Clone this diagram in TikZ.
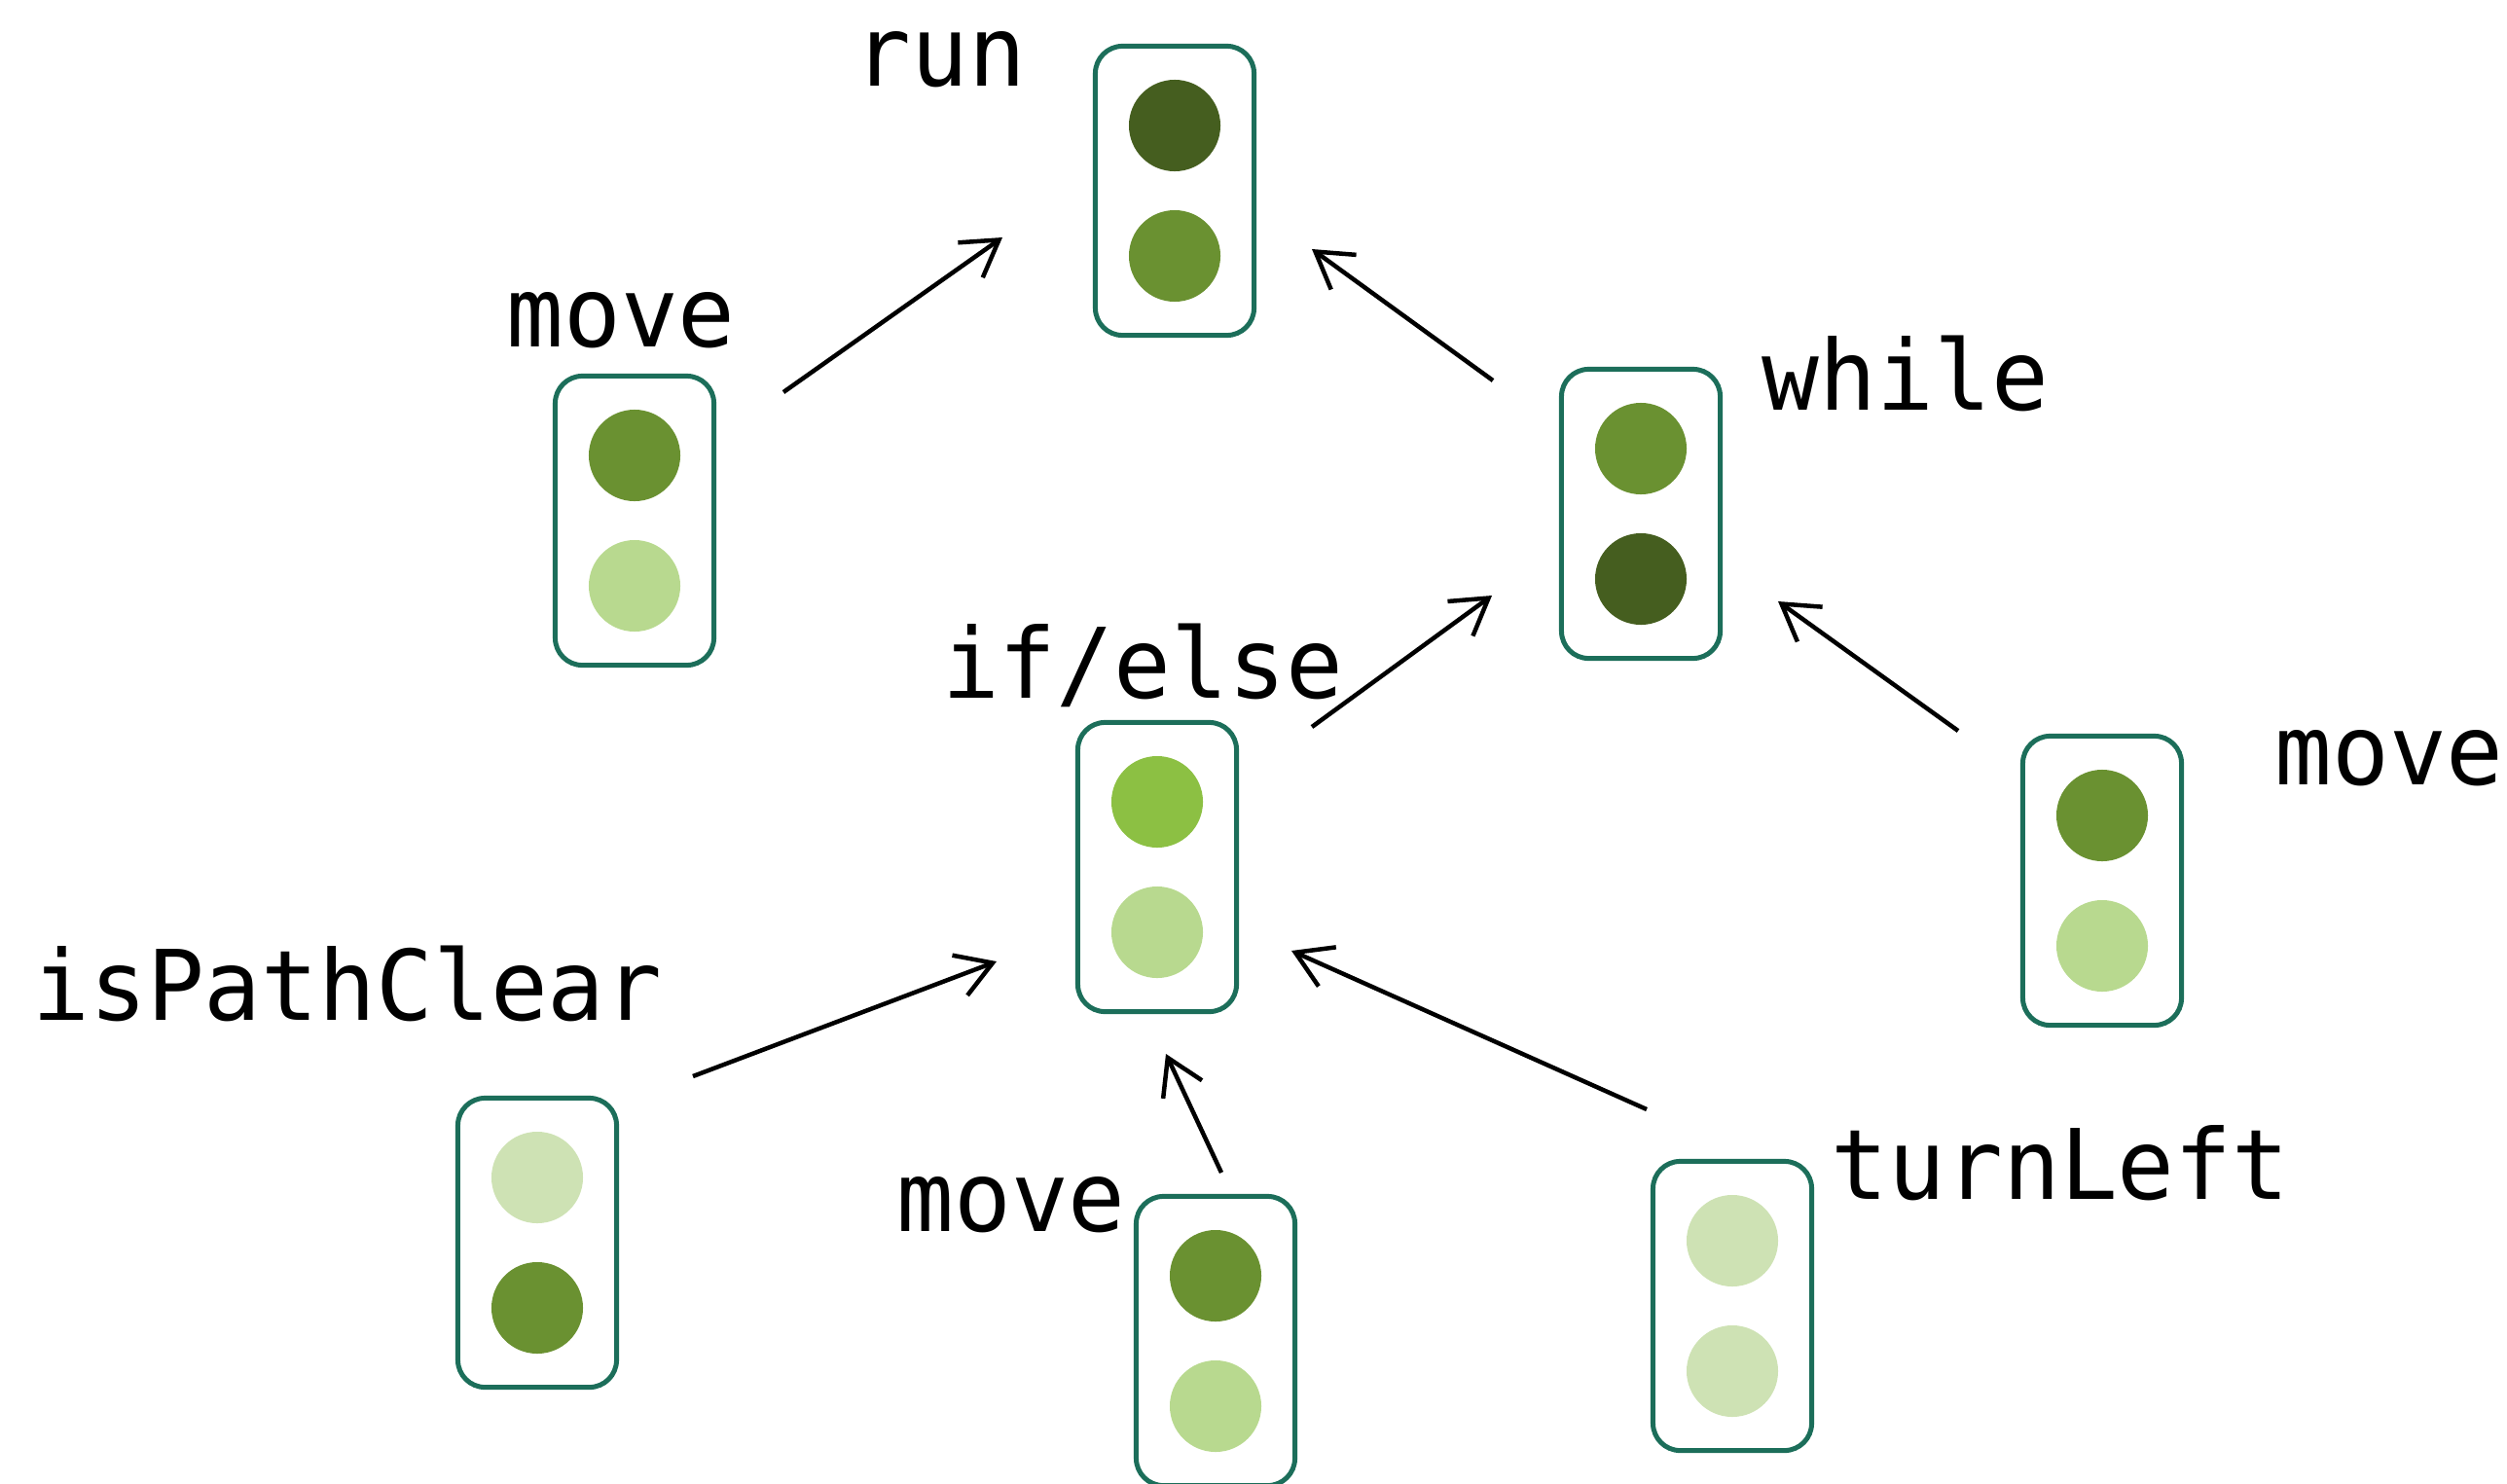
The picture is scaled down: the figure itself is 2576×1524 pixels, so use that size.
\documentclass[tikz,border=0pt]{standalone}
\usepackage{fontspec}
\setmonofont[FakeStretch=0.977]{DejaVu Sans Mono}
\usetikzlibrary{arrows.meta}
\definecolor{boxc}{RGB}{28,110,90}
\definecolor{gdark}{RGB}{69,94,31}
\definecolor{gmid}{RGB}{106,145,49}
\definecolor{gbright}{RGB}{140,192,67}
\definecolor{glight}{RGB}{184,217,143}
\definecolor{gpale}{RGB}{206,226,180}
\tikzset{
  lightbox/.style={draw=boxc, line width=0.05cm, rounded corners=0.28cm,
    minimum width=1.63cm, minimum height=2.97cm, inner sep=0pt},
  lamp/.style={circle, minimum size=0.94cm, inner sep=0pt},
  lbl/.style={font=\ttfamily\fontsize{28.45}{34}\selectfont, anchor=base, inner sep=0pt},
  link/.style={line width=0.045cm, -{Straight Barb[length=0.36cm, width=0.44cm]}}
}
\newcommand\trafficlight[5]{%
  \node[lightbox] (#1) at (#2,#3) {};
  \node[lamp, fill=#4] (#1-top) at (#2,#3-67) {};
  \node[lamp, fill=#5] (#1-bot) at (#2,#3+67) {};
}
\begin{document}
\begin{tikzpicture}[x=0.01cm, y=-0.01cm]
\useasboundingbox (0,0) rectangle (2576,1524);
% traffic lights
\trafficlight{run}{1207}{196}{gdark}{gmid}
\trafficlight{moveA}{652}{535}{gmid}{glight}
\trafficlight{while}{1686}{528}{gmid}{gdark}
\trafficlight{ifelse}{1189}{891}{gbright}{glight}
\trafficlight{moveB}{2160}{905}{gmid}{glight}
\trafficlight{clear}{552}{1277}{gpale}{gmid}
\trafficlight{moveC}{1249}{1378}{gmid}{glight}
\trafficlight{turn}{1780}{1342}{gpale}{gpale}
% labels
\node[lbl] (runL) at (966,88) {run};
\node[lbl] (moveAL) at (638,356) {move};
\node[lbl] (whileL) at (1958,421) {while};
\node[lbl] (ifelseL) at (1174,717) {if/else};
\node[lbl] (moveBL) at (2455,806) {move};
\node[lbl] (clearL) at (357,1048) {isPathClear};
\node[lbl] (moveCL) at (1039,1265) {move};
\node[lbl] (turnL) at (2117,1232) {turnLeft};
% arrow end points
\coordinate (a1s) at (805,403);  \coordinate (a1e) at (1030,244);
\coordinate (a2s) at (1534,391); \coordinate (a2e) at (1348,256);
\coordinate (a3s) at (1348,747); \coordinate (a3e) at (1533,612);
\coordinate (a4s) at (2012,751); \coordinate (a4e) at (1827,618);
\coordinate (a5s) at (712,1106); \coordinate (a5e) at (1024,988);
\coordinate (a6s) at (1255,1205); \coordinate (a6e) at (1198,1083);
\coordinate (a7s) at (1692,1140); \coordinate (a7e) at (1327,977);
\draw[link] (a1s) -- (a1e);
\draw[link] (a2s) -- (a2e);
\draw[link] (a3s) -- (a3e);
\draw[link] (a4s) -- (a4e);
\draw[link] (a5s) -- (a5e);
\draw[link] (a6s) -- (a6e);
\draw[link] (a7s) -- (a7e);
\end{tikzpicture}
\end{document}
